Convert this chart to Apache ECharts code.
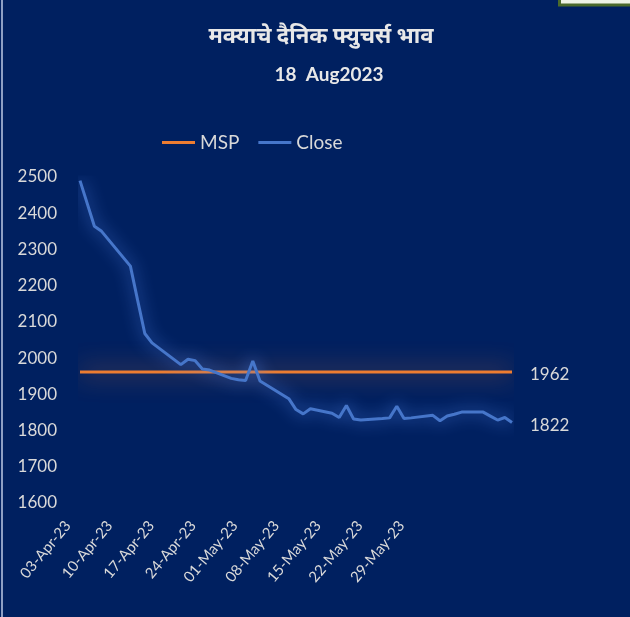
<!DOCTYPE html>
<html><head><meta charset="utf-8">
<script src="https://cdn.jsdelivr.net/npm/echarts@6/dist/echarts.min.js"></script>
<style>html,body{margin:0;padding:0;background:#002060;}#c{width:630px;height:617px;}</style>
</head><body><div id="c"></div>
<script>
const titleText = 'मक्याचे दैनिक फ्युचर्स भाव';
const subtitleText = '18  Aug2023';
const seriesNames = ['MSP', 'Close'];
const days = [
 '03-Apr-23','04-Apr-23','05-Apr-23','06-Apr-23','07-Apr-23','08-Apr-23','09-Apr-23',
 '10-Apr-23','11-Apr-23','12-Apr-23','13-Apr-23','14-Apr-23','15-Apr-23','16-Apr-23',
 '17-Apr-23','18-Apr-23','19-Apr-23','20-Apr-23','21-Apr-23','22-Apr-23','23-Apr-23',
 '24-Apr-23','25-Apr-23','26-Apr-23','27-Apr-23','28-Apr-23','29-Apr-23','30-Apr-23',
 '01-May-23','02-May-23','03-May-23','04-May-23','05-May-23','06-May-23','07-May-23',
 '08-May-23','09-May-23','10-May-23','11-May-23','12-May-23','13-May-23','14-May-23',
 '15-May-23','16-May-23','17-May-23','18-May-23','19-May-23','20-May-23','21-May-23',
 '22-May-23','23-May-23','24-May-23','25-May-23','26-May-23','27-May-23','28-May-23',
 '29-May-23','30-May-23','31-May-23','01-Jun-23','02-Jun-23'
];
const closeValues = [
 2490, null, 2364, 2350, null, null, null,
 2254, 2160, 2068, 2042, null, null, null,
 1982, 1997, 1993, 1970, 1967, null, null,
 1944, 1940, 1938, 1992, 1937, null, null,
 null, 1888, 1858, 1846, 1860, null, null,
 1848, 1836, 1869, 1832, 1829, null, null,
 1833, 1835, 1867, 1833, 1835, null, null,
 1842, 1827, 1840, 1845, 1851, null, null,
 1851, 1840, 1829, 1836, 1822
];
const mspValues = [
 1962,1962,1962,1962,1962,1962,1962,
 1962,1962,1962,1962,1962,1962,1962,
 1962,1962,1962,1962,1962,1962,1962,
 1962,1962,1962,1962,1962,1962,1962,
 1962,1962,1962,1962,1962,1962,1962,
 1962,1962,1962,1962,1962,1962,1962,
 1962,1962,1962,1962,1962,1962,1962,
 1962,1962,1962,1962,1962,1962,1962,
 1962,1962,1962,1962,1962
];
const tickLabels = ['03-Apr-23','10-Apr-23','17-Apr-23','24-Apr-23','01-May-23','08-May-23','15-May-23','22-May-23','29-May-23'];

const F = 'Lato, "Noto Sans", sans-serif';
const TXT = '#d9d9d9';
const chart = echarts.init(document.getElementById('c'), null, {renderer: 'canvas'});
const endLbl = {show: true, formatter: p => String(p.value), color: TXT, fontSize: 17, fontFamily: F, distance: 18, offset: [0, 3]};
chart.setOption({
  backgroundColor: '#002060',
  animation: false,
  graphic: [
    {type: 'rect', shape: {x: 1, y: 0, width: 2, height: 617}, style: {fill: '#8e9fc4'}, silent: true},
    {type: 'rect', shape: {x: 559.5, y: -10, width: 80, height: 15}, style: {fill: '#eef3e6', stroke: '#4b6a2c', lineWidth: 3}, silent: true},
    {type: 'text', x: 321, y: 36, style: {text: titleText, fill: '#e8e8e8', font: 'bold 22px ' + F, textAlign: 'center', textVerticalAlign: 'middle'}},
    {type: 'text', x: 329, y: 75, style: {text: subtitleText, fill: '#e8e8e8', font: 'bold 19px ' + F, textAlign: 'center', textVerticalAlign: 'middle'}}
  ],
  legend: {
    left: 157, top: 128, icon: 'rect', itemWidth: 33, itemHeight: 3, itemGap: 19,
    data: seriesNames,
    itemStyle: {shadowBlur: 0, shadowColor: 'transparent'},
    lineStyle: {shadowBlur: 0, shadowColor: 'transparent'},
    textStyle: {color: TXT, fontSize: 19, fontFamily: F}
  },
  grid: [
    {left: 80, right: 118, top: 177, bottom: 114, containLabel: false, outerBoundsMode: 'none'},
    {left: 68, width: 333.6, top: 177, bottom: 114, containLabel: false, outerBoundsMode: 'none'}
  ],
  xAxis: [
    {type: 'category', gridIndex: 0, data: days, boundaryGap: false,
     axisLine: {show: false}, axisTick: {show: false}, axisLabel: {show: false}, splitLine: {show: false}},
    {type: 'category', gridIndex: 1, data: tickLabels, boundaryGap: false,
     axisLine: {show: false}, axisTick: {show: false}, splitLine: {show: false},
     axisLabel: {interval: 0, rotate: 50, margin: 20, color: TXT, fontSize: 15, fontFamily: F}}
  ],
  yAxis: [
    {type: 'value', gridIndex: 0, min: 1600, max: 2500, interval: 100,
     axisLine: {show: false}, axisTick: {show: false}, splitLine: {show: false},
     axisLabel: {margin: 23, color: TXT, fontSize: 17, fontFamily: F, formatter: v => String(v)}},
    {type: 'value', gridIndex: 1, show: false}
  ],
  series: [
    {name: 'MSP', type: 'line', xAxisIndex: 0, yAxisIndex: 0, data: mspValues, symbol: 'none', showSymbol: false,
     itemStyle: {color: '#ED7D31'},
     lineStyle: {color: '#ED7D31', width: 3, shadowBlur: 24, shadowColor: 'rgba(237,125,49,0.95)'},
     endLabel: endLbl, z: 2},
    {name: 'Close', type: 'line', xAxisIndex: 0, yAxisIndex: 0, data: closeValues, connectNulls: true, symbol: 'none', showSymbol: false,
     itemStyle: {color: '#4676CA'},
     lineStyle: {color: '#4676CA', width: 3, shadowBlur: 16, shadowColor: 'rgba(80,130,225,1)'},
     endLabel: endLbl, z: 3}
  ]
});
</script></body></html>
